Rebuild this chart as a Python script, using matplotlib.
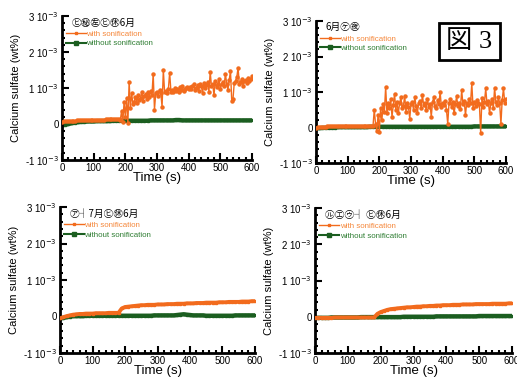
import numpy as np
import matplotlib
matplotlib.use("Agg")
import matplotlib.pyplot as plt
from matplotlib.ticker import MultipleLocator, FixedLocator, FixedFormatter

plt.rcParams['font.family'] = ['Liberation Sans', 'Noto Sans CJK JP', 'DejaVu Sans']

# panel titles (garbled in the source figure)
titles = ["㋪㊙㊧㋪㊡6月", "6月㋘㊰", "㋐┤7月㋪㊡6月", "㋸㋓㋒┤ ㋪㊡6月"]
series_names = ["with sonification", "without sonification"]

# values in units of 1e-3 wt%
t_pre = np.arange(0, 181, 6)      # before the ultrasound starts
t_post = np.arange(184, 601, 4)   # noisy part
t_smooth = np.arange(0, 601, 10)

p1_with_pre = [0.06, 0.07, 0.07, 0.08, 0.08, 0.09, 0.09, 0.09, 0.10, 0.10, 0.10,
               0.10, 0.11, 0.11, 0.11, 0.11, 0.11, 0.12, 0.12, 0.12, 0.12, 0.12,
               0.12, 0.13, 0.13, 0.13, 0.13, 0.13, 0.13, 0.13, 0.13]
p1_with_post = [0.10, 0.35, 0.05, 0.60, 0.20, 0.72, 0.02, 1.17, 0.45, 0.85, 0.55,
                0.62, 0.75, 0.58, 0.80, 0.68, 0.72, 0.90, 0.65, 0.78, 0.82, 0.70,
                0.88, 0.75, 0.92, 0.80, 1.40, 0.40, 0.85, 0.90,
                0.78, 0.95, 0.85, 0.48, 1.50, 0.88, 0.92, 0.85, 0.98, 1.43, 0.90,
                0.95, 0.88, 1.00, 0.93, 0.97, 0.90, 1.02, 0.95, 1.05, 0.92, 0.98,
                1.00, 1.03, 0.96,
                1.02, 0.98, 1.05, 1.10, 0.95, 1.00, 1.08, 0.92, 1.12, 1.05, 0.85,
                1.15, 1.00, 1.08, 1.18, 0.90, 1.45, 1.05, 1.10, 0.80, 1.20, 1.02,
                1.12, 1.25, 0.98,
                1.10, 1.18, 1.05, 1.40, 1.12, 0.95, 1.22, 1.48, 0.65, 0.70, 1.15,
                1.20, 1.30, 1.56, 1.10, 1.18, 1.25, 1.05, 1.20, 1.22, 1.15, 1.28,
                1.20, 1.25, 1.32]
p1_without = [-0.04, -0.02, 0.00, 0.02, 0.04, 0.05, 0.06, 0.06, 0.07, 0.07, 0.07,
              0.08, 0.08, 0.08, 0.08, 0.08, 0.09, 0.09, 0.09, 0.09, 0.09, 0.09,
              0.09, 0.09, 0.09, 0.09, 0.09, 0.09, 0.10, 0.10, 0.10, 0.10, 0.10,
              0.10, 0.10, 0.10, 0.11, 0.11, 0.10, 0.10, 0.10, 0.10, 0.10, 0.10,
              0.10, 0.10, 0.10, 0.10, 0.10, 0.10, 0.10, 0.10, 0.10, 0.10, 0.10,
              0.10, 0.10, 0.10, 0.10, 0.10, 0.10]

p2_with_pre = [0.00, 0.01, 0.01, 0.02, 0.02, 0.02, 0.03, 0.03, 0.03, 0.03, 0.03,
               0.04, 0.04, 0.04, 0.04, 0.04, 0.04, 0.04, 0.04, 0.04, 0.04, 0.04,
               0.04, 0.04, 0.04, 0.04, 0.04, 0.04, 0.04, 0.04, 0.04]
p2_with_post = [0.50, 0.10, -0.10, 0.35, -0.12, 0.55, 0.20, 0.65, 0.45, 1.15, 0.40,
                0.70, 0.55, 0.80, 0.30, 0.62, 0.95, 0.50, 0.72, 0.40, 0.68, 0.85,
                0.55, 0.60, 0.90, 0.45, 0.70, 0.58, 0.25, 0.66,
                0.72, 0.50, 0.85, 0.60, 0.40, 0.68, 0.75, 0.55, 0.92, 0.62, 0.70,
                0.48, 0.80, 0.58, 0.66, 0.30, 0.72, 0.85, 0.60, 0.55, 0.78, 0.65,
                1.00, 0.58, 0.70,
                0.62, 0.75, 0.50, 0.10, 0.68, 0.80, 0.58, 0.72, 0.40, 0.65, 0.88,
                0.60, 0.70, 0.52, 1.05, 0.66, 0.75, 0.35, 0.70, 0.62, 0.80, 0.68,
                1.25, 0.55, 0.72,
                0.60, 0.78, 0.70, 0.65, -0.15, 0.82, 0.58, 0.72, 1.10, 0.66, 0.75,
                0.40, 0.68, 0.80, 0.55, 1.12, 0.72, 0.62, 0.85, 0.68, 0.10, 0.78,
                1.10, 0.70, 0.80]
p2_without = [-0.02, -0.02, -0.01, -0.01, 0.00, 0.00, 0.00, 0.01, 0.01, 0.01, 0.01,
              0.01, 0.01, 0.01, 0.01, 0.01, 0.01, 0.02, 0.02, 0.02, 0.02, 0.02,
              0.02, 0.02, 0.02, 0.02, 0.02, 0.02, 0.02, 0.02, 0.02, 0.02, 0.02,
              0.02, 0.02, 0.02, 0.02, 0.02, 0.02, 0.02, 0.02, 0.02, 0.02, 0.02,
              0.02, 0.02, 0.02, 0.02, 0.02, 0.02, 0.03, 0.03, 0.03, 0.03, 0.03,
              0.03, 0.03, 0.03, 0.03, 0.03, 0.03]

p3_with = [-0.05, -0.02, 0.01, 0.03, 0.05, 0.06, 0.07, 0.07, 0.08, 0.08, 0.08,
           0.09, 0.09, 0.09, 0.09, 0.10, 0.10, 0.10, 0.10, 0.22, 0.26, 0.27,
           0.28, 0.29, 0.30, 0.31, 0.31, 0.32, 0.32, 0.32, 0.33, 0.33, 0.33,
           0.34, 0.34, 0.34, 0.35, 0.35, 0.35, 0.36, 0.36, 0.36, 0.37, 0.37,
           0.37, 0.38, 0.38, 0.38, 0.38, 0.39, 0.39, 0.39, 0.40, 0.40, 0.40,
           0.40, 0.41, 0.41, 0.41, 0.42, 0.42]
p3_without = [-0.05, -0.04, -0.02, 0.00, 0.01, 0.01, 0.01, 0.01, 0.02, 0.02, 0.02,
              0.02, 0.02, 0.02, 0.02, 0.02, 0.02, 0.02, 0.02, 0.02, 0.02, 0.02,
              0.02, 0.02, 0.02, 0.02, 0.02, 0.02, 0.02, 0.03, 0.03, 0.03, 0.03,
              0.03, 0.03, 0.03, 0.04, 0.05, 0.06, 0.05, 0.04, 0.03, 0.03, 0.03,
              0.03, 0.02, 0.02, 0.02, 0.02, 0.02, 0.02, 0.02, 0.02, 0.02, 0.03,
              0.03, 0.03, 0.03, 0.03, 0.03, 0.03]

p4_with = [-0.03, -0.03, -0.03, -0.03, -0.03, -0.03, -0.02, -0.02, -0.02, -0.02,
           -0.02, -0.02, -0.02, -0.02, -0.02, -0.02, -0.02, -0.02, -0.02, 0.08,
           0.13, 0.16, 0.19, 0.21, 0.22, 0.23, 0.24, 0.25, 0.26, 0.26, 0.27,
           0.28, 0.28, 0.29, 0.29, 0.30, 0.30, 0.31, 0.31, 0.32, 0.32, 0.32,
           0.33, 0.33, 0.33, 0.34, 0.34, 0.34, 0.34, 0.35, 0.35, 0.35, 0.35,
           0.35, 0.36, 0.36, 0.36, 0.36, 0.36, 0.37, 0.37]
p4_without = [-0.03, -0.03, -0.03, -0.03, -0.03, -0.02, -0.02, -0.02, -0.02, -0.02,
              -0.02, -0.02, -0.02, -0.02, -0.01, -0.01, -0.01, -0.01, -0.01, -0.01,
              -0.01, -0.01, -0.01, -0.01, -0.01, -0.01, -0.01, 0.00, 0.00, 0.00,
              0.00, 0.00, 0.00, 0.00, 0.00, 0.00, 0.00, 0.01, 0.01, 0.01, 0.01,
              0.01, 0.01, 0.01, 0.01, 0.01, 0.01, 0.01, 0.01, 0.01, 0.02, 0.02,
              0.02, 0.02, 0.02, 0.02, 0.02, 0.02, 0.02, 0.02, 0.02]

ytick_vals = [-1, 0, 1, 2, 3]
ytick_labels = [r"-1 10$^{-3}$", "0", r"1 10$^{-3}$", r"2 10$^{-3}$", r"3 10$^{-3}$"]

ORANGE = "#F26B1D"
ORANGE_TXT = "#F5873A"
GREEN = "#1B5E20"
GREEN_TXT = "#2E7D32"

W, H = 517, 380
fig = plt.figure(figsize=(W / 100, H / 100), dpi=100)

# axes boxes in pixels: left, top, right, bottom
boxes = [(62, 16, 252, 160), (316, 21, 506, 163),
         (60, 207, 255, 353), (315, 208, 512, 353)]


def add_panel(box, title, with_t, with_v, without_t, without_v, noisy):
    l, t, r, b = box
    ax = fig.add_axes([l / W, 1 - b / H, (r - l) / W, (b - t) / H])
    scale = 1e-3
    ax.plot(without_t, np.array(without_v) * scale, color=GREEN, lw=3.2,
            marker="s", ms=2, zorder=2)
    if noisy:
        ax.plot(with_t, np.array(with_v) * scale, color=ORANGE, lw=1,
                marker="o", ms=2.2, zorder=3)
    else:
        ax.plot(with_t, np.array(with_v) * scale, color=ORANGE, lw=2.8,
                marker="s", ms=2, zorder=3)
    ax.set_xlim(0, 600)
    ax.set_ylim(-1e-3, 3e-3)
    ax.xaxis.set_major_locator(MultipleLocator(100))
    ax.xaxis.set_minor_locator(MultipleLocator(20))
    ax.yaxis.set_major_locator(FixedLocator([v * 1e-3 for v in ytick_vals]))
    ax.yaxis.set_major_formatter(FixedFormatter(ytick_labels))
    ax.yaxis.set_minor_locator(MultipleLocator(0.2e-3))
    ax.tick_params(which="both", direction="in", width=1.5, labelsize=7,
                   top=False, right=False)
    ax.tick_params(which="major", length=5, pad=2.5)
    ax.tick_params(which="minor", length=2.5)
    for s in ["top", "right"]:
        ax.spines[s].set_visible(False)
    for s in ["left", "bottom"]:
        ax.spines[s].set_linewidth(2)
    ax.set_xlabel("Time (s)", fontsize=9.5, labelpad=-1)
    ax.set_ylabel("Calcium sulfate (wt%)", fontsize=8, labelpad=3)

    ax.text(0.05, 0.955, title, transform=ax.transAxes, fontsize=7,
            va="center", ha="left", family=['Noto Sans CJK JP', 'DejaVu Sans'])
    h1, = ax.plot([], [], color=ORANGE, lw=1, marker="s", ms=2)
    h2, = ax.plot([], [], color=GREEN, lw=1.5, marker="s", ms=2.5)
    ax.legend([h1, h2], series_names, loc="upper left",
              bbox_to_anchor=(0.02, 0.9), frameon=False, fontsize=5.7,
              handlelength=2.5, handletextpad=0.1, labelspacing=0.25,
              borderaxespad=0.0, borderpad=0.0,
              labelcolor=[ORANGE_TXT, GREEN_TXT])
    return ax


add_panel(boxes[0], titles[0], np.concatenate([t_pre, t_post]),
          p1_with_pre + p1_with_post, t_smooth, p1_without, True)
add_panel(boxes[1], titles[1], np.concatenate([t_pre, t_post]),
          p2_with_pre + p2_with_post, t_smooth, p2_without, True)
add_panel(boxes[2], titles[2], t_smooth, p3_with, t_smooth, p3_without, False)
add_panel(boxes[3], titles[3], t_smooth, p4_with, t_smooth, p4_without, False)

fig.text(469.5 / W, 1 - 41.5 / H, "図 3", fontsize=19, ha="center", va="center",
         family=['Liberation Serif', 'Noto Sans CJK JP', 'DejaVu Sans'],
         bbox=dict(boxstyle="square,pad=0.28", fc="white", ec="black", lw=2))

fig.savefig("out.png", dpi=100)
